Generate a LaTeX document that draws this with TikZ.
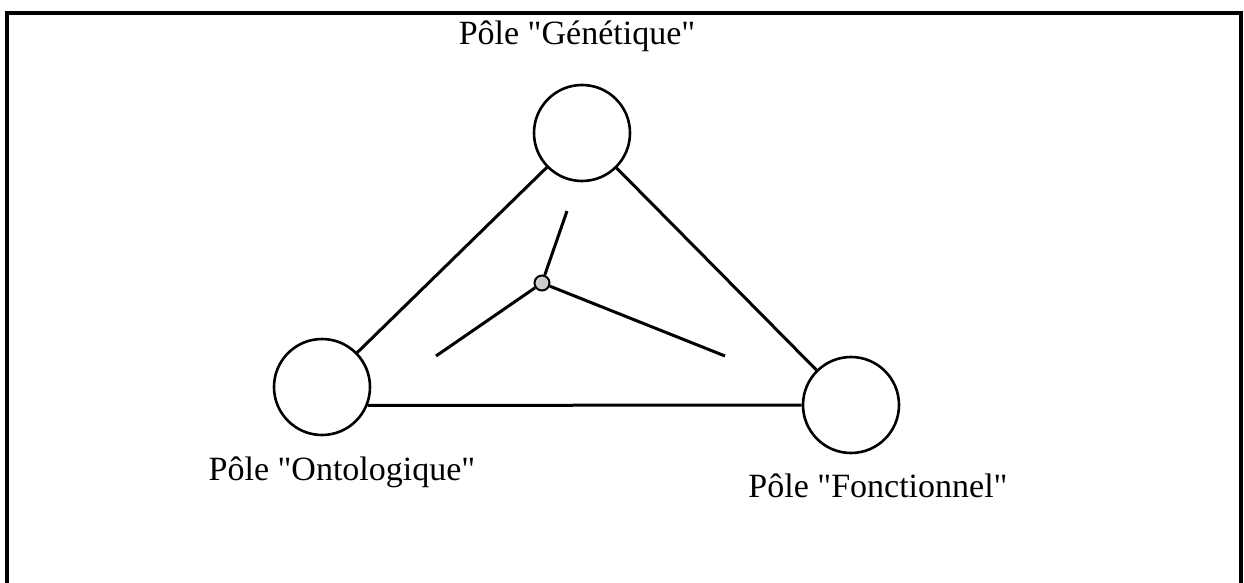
\documentclass[tikz,border=0pt]{standalone}
\usepackage{fontspec}
\setmainfont{Liberation Serif}[Ligatures=TeXOff]
\begin{document}
\begin{tikzpicture}[x=1pt,y=-1pt,
  pole/.style={circle,draw,line width=2.6pt,minimum size=96pt,inner sep=0pt},
  link/.style={line width=3pt},
  label/.style={anchor=base,inner sep=0pt,font=\fontsize{34}{40}\selectfont},
  hub/.style={circle,draw,line width=2pt,fill=gray!40,minimum size=15pt,inner sep=0pt}]
\useasboundingbox (0,0) rectangle (1244,583);
\draw[line width=3.5pt] (7,600) -- (7,13) -- (1241,13) -- (1241,600);
\node[pole] (gen) at (582,133) {};
\node[pole] (ont) at (322,387) {};
\node[pole] (fon) at (851,405) {};
\draw[link] (gen) -- (ont);
\draw[link] (gen) -- (fon);
\draw[link] (ont.-22) -- (fon.west);
\node[hub] (c) at (542,283) {};
\coordinate (a) at (567,211);
\coordinate (b) at (436,356);
\coordinate (d) at (725,356);
\draw[link] (c) -- (a);
\draw[link] (c) -- (b);
\draw[link] (c) -- (d);
\node[label] (tg) at (577,45) {Pôle "Génétique"};
\node[label] (to) at (342,480) {Pôle "Ontologique"};
\node[label] (tf) at (878,497) {Pôle "Fonctionnel"};
\end{tikzpicture}
\end{document}
